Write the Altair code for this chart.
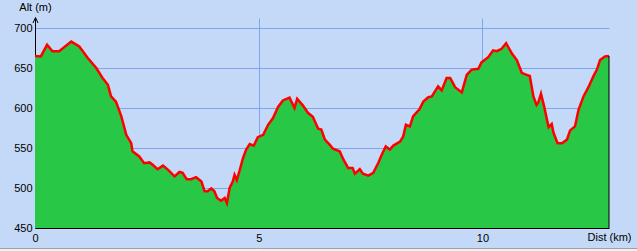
import altair as alt
import pandas as pd

dist_km = [0.00, 0.13, 0.27, 0.39, 0.54, 0.81, 0.99, 1.18, 1.37, 1.51, 1.63, 1.70, 1.81, 1.93,
           2.04, 2.15, 2.18, 2.33, 2.44, 2.56, 2.63, 2.74, 2.86, 2.97, 3.12, 3.23, 3.30, 3.39,
           3.49, 3.60, 3.72, 3.79, 3.86, 3.94, 4.01, 4.07, 4.16, 4.24, 4.29, 4.35, 4.42, 4.46,
           4.51, 4.57, 4.65, 4.72, 4.80, 4.89, 4.98, 5.10, 5.21, 5.32, 5.43, 5.54, 5.69, 5.80,
           5.86, 5.99, 6.10, 6.21, 6.33, 6.40, 6.48, 6.59, 6.66, 6.81, 6.89, 7.00, 7.10, 7.15,
           7.26, 7.33, 7.45, 7.56, 7.67, 7.75, 7.84, 7.93, 8.01, 8.16, 8.23, 8.29, 8.38, 8.45,
           8.53, 8.59, 8.68, 8.79, 8.87, 9.01, 9.09, 9.20, 9.28, 9.39, 9.54, 9.65, 9.76, 9.91,
           9.98, 10.13, 10.24, 10.32, 10.43, 10.53, 10.66, 10.77, 10.88, 10.99, 11.06, 11.14,
           11.21, 11.25, 11.31, 11.38, 11.48, 11.55, 11.59, 11.68, 11.78, 11.89, 11.96, 12.07,
           12.15, 12.26, 12.37, 12.48, 12.56, 12.63, 12.74, 12.83]
alt_m = [665, 664.5, 679, 671, 671, 683, 677, 662.5, 650, 637.5, 629, 614.5, 608, 589.5,
         566.5, 556, 546, 539.5, 531, 532, 529, 523.5, 528, 523, 514.5, 520, 519, 511,
         511, 513.5, 508, 496, 496, 499.5, 496, 487.5, 484, 487.5, 481, 500, 508, 516.5,
         510, 521, 537.5, 548, 555, 553, 563.5, 566.5, 579, 587.5, 601, 609.5, 613, 600,
         611.5, 603, 594, 589, 574, 573, 560.5, 554, 549, 546, 536, 525, 525, 518,
         523.5, 518, 515.5, 519, 531, 541.5, 552, 548, 553, 558, 564.5, 579, 577, 589.5,
         594.5, 598, 608, 613.5, 614.5, 627, 622, 637.5, 637.5, 626, 619.5, 641.5, 648, 649,
         657, 663.5, 672, 671, 674, 681, 668, 660, 644, 641.5, 640, 614.5,
         604, 607, 618, 602, 576, 580, 569, 556, 556, 560.5, 572, 577,
         598, 614.5, 626, 639.5, 648, 660, 664.5, 665]

x_ticks = [0, 5, 10]
y_ticks = [450, 500, 550, 600, 650, 700]
x_title = "Dist (km)"
y_title = "Alt (m)"

df = pd.DataFrame({"d": dist_km, "a": alt_m})

BG = "#C3D9F7"
GRID = "#82A4F0"
FONT = "Liberation Sans"

xs = alt.Scale(domain=[0, 12.83], nice=False, zero=False)
ys = alt.Scale(domain=[450, 712.5], nice=False, zero=False)

x_axis = alt.Axis(
    values=x_ticks, title=None, ticks=False, labelPadding=4, labelFontSize=11,
    labelFont=FONT, labelColor="black", domainColor="black", domainWidth=1,
    grid=True, gridColor=GRID, gridWidth=1, labelFlush=False,
    gridOpacity=alt.ExprRef(expr="datum.value == 0 ? 0 : 1"))
y_axis = alt.Axis(
    values=y_ticks, title=None, ticks=False, labelPadding=3, labelFontSize=11,
    labelFont=FONT, labelColor="black", domainColor="black", domainWidth=1,
    grid=True, gridColor=GRID, gridWidth=1, labelFlush=False,
    gridOpacity=alt.ExprRef(expr="datum.value == 450 ? 0 : 1"))

area = alt.Chart(df).mark_area(color="#28C846", opacity=1).encode(
    x=alt.X("d:Q", scale=xs, axis=x_axis),
    y=alt.Y("a:Q", scale=ys, axis=y_axis),
    y2=alt.datum(450))
line = alt.Chart(df).mark_line(color="#FF0000", strokeWidth=2.5).encode(
    x=alt.X("d:Q", scale=xs, axis=x_axis),
    y=alt.Y("a:Q", scale=ys, axis=y_axis))

end_df = pd.DataFrame({"d": [dist_km[-1]], "a": [alt_m[-1]]})
edge = alt.Chart(end_df).mark_rule(color="black", strokeWidth=1).encode(
    x=alt.X("d:Q", scale=xs), y=alt.Y("a:Q", scale=ys), y2=alt.datum(450))

one = pd.DataFrame({"k": [0]})
arrow_l = alt.Chart(one).mark_rule(color="black", strokeWidth=1).encode(
    x=alt.value(0.5), x2=alt.value(-2), y=alt.value(-0.5), y2=alt.value(5))
arrow_r = alt.Chart(one).mark_rule(color="black", strokeWidth=1).encode(
    x=alt.value(0.5), x2=alt.value(3), y=alt.value(-0.5), y2=alt.value(5))
ytitle = alt.Chart(one).mark_text(text=y_title, font=FONT, fontSize=11, color="black",
                                  align="center", baseline="middle").encode(
    x=alt.value(0.5), y=alt.value(-10))
xtitle = alt.Chart(one).mark_text(text=x_title, font=FONT, fontSize=11, color="black",
                                  align="center", baseline="middle").encode(
    x=alt.value(574.5), y=alt.value(219.5))
bottom = alt.Chart(one).mark_rule(color="#A0A0A0", strokeWidth=1).encode(
    x=alt.value(-35), x2=alt.value(602), y=alt.value(230.5))
bottom2 = alt.Chart(one).mark_rect(color="#F0F0F0").encode(
    x=alt.value(-35), x2=alt.value(602), y=alt.value(231), y2=alt.value(233))

chart = alt.layer(area, line, edge, arrow_l, arrow_r, ytitle, xtitle, bottom, bottom2).properties(
    width=574, height=210,
    padding={"left": 35, "top": 18, "right": 28, "bottom": 23},
    autosize=alt.AutoSizeParams(type="none"),
    background=BG,
).configure_view(stroke=None)

chart.save("out.html", embed_options={"renderer": "svg", "actions": False})
